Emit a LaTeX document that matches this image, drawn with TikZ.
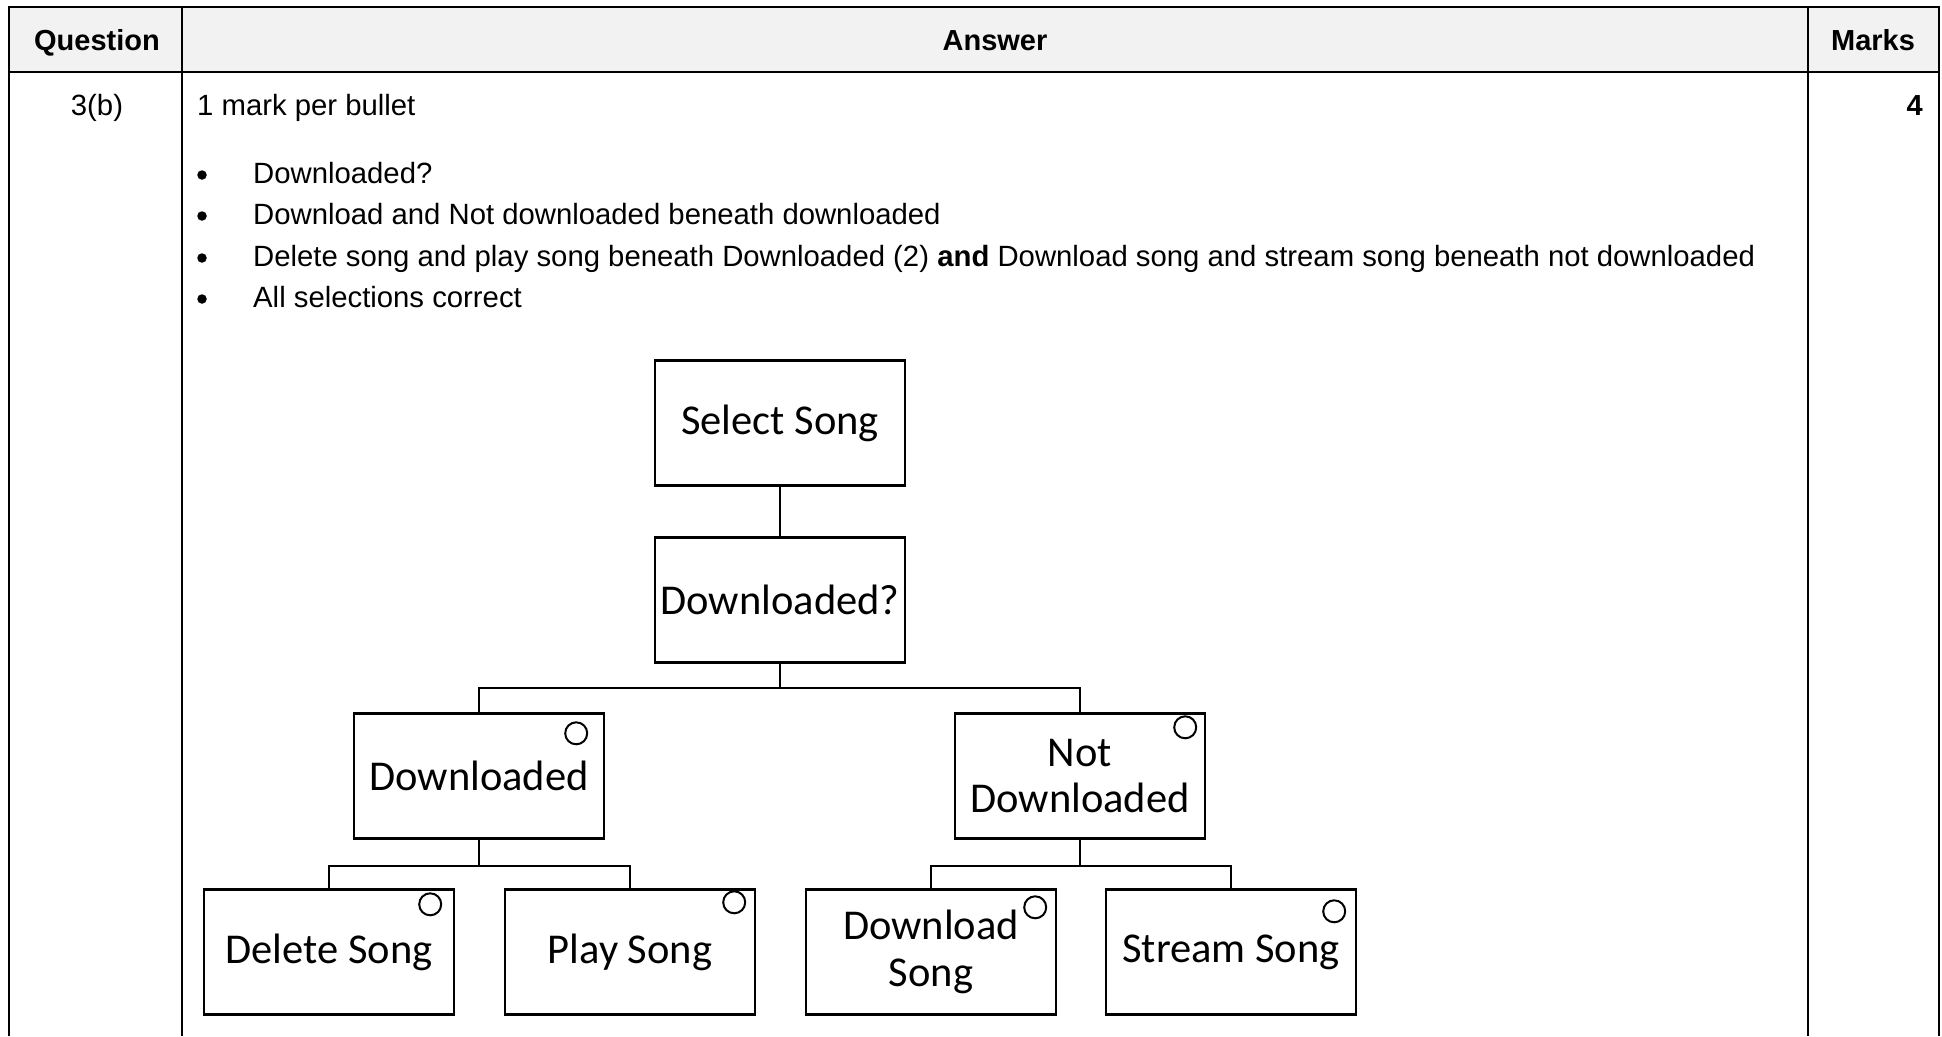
\documentclass[tikz,border=0pt]{standalone}
\usepackage{fontspec}
\setmainfont{Liberation Sans}
\newfontfamily\boxfont{Carlito}
\begin{document}
\begin{tikzpicture}[x=1pt,y=-1pt,
  tline/.style={line width=2pt},
  body/.style={font=\fontsize{29.3}{35}\selectfont, inner sep=0pt},
  hdr/.style={font=\fontsize{29}{35}\selectfont\bfseries, inner sep=0pt},
  dotb/.style={circle, fill=black, minimum width=9.5pt, inner sep=0pt},
  sbox/.style={draw, line width=2.4pt, minimum width=250pt, minimum height=125pt, inner sep=0pt, align=center, font=\fontsize{42.5}{46.5}\selectfont\boxfont},
  conn/.style={line width=2.4pt},
  opt/.style={line width=2pt}]
\useasboundingbox (0,0) rectangle (1942,1036);
% table
\fill[black!5] (9,7) rectangle (1939,72);
\draw[tline] (9,1036) -- (9,7) -- (1939,7) -- (1939,1036);
\draw[tline] (9,72) -- (1939,72);
\draw[tline] (182,7) -- (182,1036);
\draw[tline] (1808,7) -- (1808,1036);
\node[hdr, anchor=base] (hq) at (97,50) {Question};
\node[hdr, anchor=base] (ha) at (995,50) {Answer};
\node[hdr, anchor=base] (hm) at (1873,50) {Marks};
\node[body, anchor=base] (q) at (97,115) {3(b)};
\node[body, anchor=base west] (intro) at (197,115) {1 mark per bullet};
\node[hdr, anchor=base east] (mk) at (1923,115) {4};
\foreach \yy/\tx [count=\i] in {183/{Downloaded?},224/{Download and Not downloaded beneath downloaded},266/{Delete song and play song beneath Downloaded (2) \textbf{and} Download song and stream song beneath not downloaded},307/{All selections correct}} {
  \node[dotb] (b\i) at (202,\yy-8) {};
  \node[body, anchor=base west] (t\i) at (253,\yy) {\tx};
}
% diagram
\node[sbox] (sel) at (780,423) {\raisebox{-3pt}{Select Song}};
\node[sbox] (dq) at (780,600) {Downloaded?};
\node[sbox] (dl) at (479,776) {Downloaded};
\node[sbox] (nd) at (1080,776) {Not\\Downloaded};
\node[sbox] (del) at (329,952) {\raisebox{-3pt}{Delete Song}};
\node[sbox] (play) at (630,952) {\raisebox{-3pt}{Play Song}};
\node[sbox] (dls) at (931,952) {Download\\Song};
\node[sbox] (str) at (1231,952) {\raisebox{-3pt}{Stream Song}};
\draw[conn] (sel) -- (dq);
\draw[conn] (dq.south) -- ++(0,24) -| (dl.north);
\draw[conn] (dq.south) -- ++(0,24) -| (nd.north);
\draw[conn] (dl.south) -- ++(0,26) -| (del.north);
\draw[conn] (dl.south) -- ++(0,26) -| (play.north);
\draw[conn] (nd.south) -- ++(0,26) -| (dls.north);
\draw[conn] (nd.south) -- ++(0,26) -| (str.north);
% option circles
\draw[opt] ([shift={(-29,21)}]dl.north east) circle (11);
\draw[opt] ([shift={(-21,15)}]nd.north east) circle (11);
\draw[opt] ([shift={(-25,16)}]del.north east) circle (11);
\draw[opt] ([shift={(-22,14)}]play.north east) circle (11);
\draw[opt] ([shift={(-22,19)}]dls.north east) circle (11);
\draw[opt] ([shift={(-23,23)}]str.north east) circle (11);
\end{tikzpicture}
\end{document}
